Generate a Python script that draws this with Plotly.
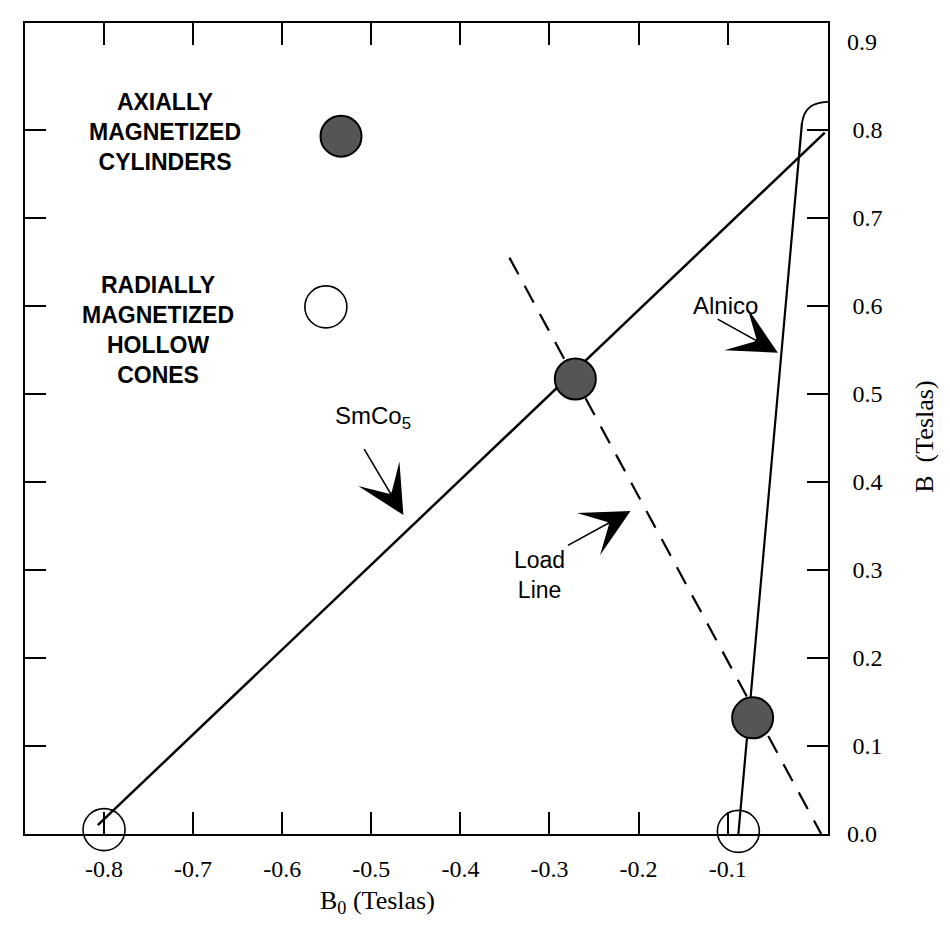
import plotly.graph_objects as go

# ---- data (Teslas) ----
x_tick_vals = [-0.8, -0.7, -0.6, -0.5, -0.4, -0.3, -0.2, -0.1]
x_tick_text = ["-0.8", "-0.7", "-0.6", "-0.5", "-0.4", "-0.3", "-0.2", "-0.1"]
y_tick_vals = [0.1, 0.2, 0.3, 0.4, 0.5, 0.6, 0.7, 0.8]
y_tick_text = ["0.1", "0.2", "0.3", "0.4", "0.5", "0.6", "0.7", "0.8"]
y_end_vals = [0.0, 0.9]
y_end_text = ["0.0", "0.9"]

smco5_b0 = [-0.807, 0.009]
smco5_b = [0.010, 0.797]

alnico_b0 = [-0.088, -0.0166]
alnico_b = [0.0, 0.808]
alnico_knee_b0 = [-0.0166, -0.0133, -0.0065, 0.0048, 0.0148]
alnico_knee_b = [0.808, 0.819, 0.827, 0.831, 0.832]

load_b0 = [-0.345, 0.005]
load_b = [0.655, 0.0]

filled_b0 = [-0.534, -0.271, -0.072]
filled_b = [0.793, 0.517, 0.132]
open_b0 = [-0.551, -0.800, -0.088]
open_b = [0.599, 0.005, 0.003]

X_RANGE = [-0.8887, 0.0126]
Y_RANGE = [0.0, 0.9216]

SERIF = "Liberation Serif, Times New Roman, serif"
SANS = "Liberation Sans, Arial, Helvetica, sans-serif"

fig = go.Figure()

fig.add_trace(go.Scatter(x=smco5_b0, y=smco5_b, mode="lines",
                         line=dict(color="black", width=2.5), hoverinfo="skip"))
fig.add_trace(go.Scatter(x=alnico_b0, y=alnico_b, mode="lines",
                         line=dict(color="black", width=2.2), hoverinfo="skip"))
fig.add_trace(go.Scatter(x=alnico_knee_b0, y=alnico_knee_b, mode="lines",
                         line=dict(color="black", width=1.8, shape="spline"),
                         hoverinfo="skip"))
fig.add_trace(go.Scatter(x=load_b0, y=load_b, mode="lines",
                         line=dict(color="black", width=2.2, dash="19px,13px"),
                         hoverinfo="skip"))
fig.add_trace(go.Scatter(x=filled_b0, y=filled_b, mode="markers", cliponaxis=False,
                         marker=dict(size=41, color="#555555",
                                     line=dict(color="black", width=2)),
                         hoverinfo="skip"))
fig.add_trace(go.Scatter(x=open_b0, y=open_b, mode="markers", cliponaxis=False,
                         marker=dict(size=42, color="rgba(0,0,0,0)",
                                     line=dict(color="black", width=1.6)),
                         hoverinfo="skip"))
# carrier trace for the secondary (end-label) axis
fig.add_trace(go.Scatter(x=[None], y=[None], yaxis="y2", mode="markers",
                         hoverinfo="skip"))

annotations = []
# text blocks
annotations.append(dict(x=-0.7315, y=0.798, xref="x", yref="y",
                        text="<b>AXIALLY<br>MAGNETIZED<br>CYLINDERS</b>",
                        showarrow=False, align="center",
                        font=dict(family=SANS, size=23, color="black")))
annotations.append(dict(x=-0.739, y=0.573, xref="x", yref="y",
                        text="<b>RADIALLY<br>MAGNETIZED<br>HOLLOW<br>CONES</b>",
                        showarrow=False, align="center",
                        font=dict(family=SANS, size=23, color="black")))
annotations.append(dict(x=-0.498, y=0.473, xref="x", yref="y",
                        text="SmCo<sub>5</sub>", showarrow=False,
                        font=dict(family=SANS, size=24, color="black")))
annotations.append(dict(x=-0.311, y=0.294, xref="x", yref="y",
                        text="Load<br>Line", showarrow=False, align="center",
                        font=dict(family=SANS, size=23, color="black")))
annotations.append(dict(x=-0.102, y=0.601, xref="x", yref="y",
                        text="Alnico", showarrow=False,
                        font=dict(family=SANS, size=24, color="black")))
# arrows (tail -> tip)
arrows = [((-0.509, 0.439), (-0.464, 0.3625)),
          ((-0.281, 0.327), (-0.209, 0.367)),
          ((-0.113, 0.586), (-0.0436, 0.547))]
for (tx, ty), (hx, hy) in arrows:
    annotations.append(dict(x=hx, y=hy, ax=tx, ay=ty, xref="x", yref="y",
                            axref="x", ayref="y", text="", showarrow=True,
                            arrowhead=3, arrowsize=5, arrowwidth=1.6,
                            arrowcolor="black", standoff=0, startstandoff=0))
# axis titles
annotations.append(dict(x=-0.4925, y=-0.106, xref="x", yref="paper",
                        text="B<sub>0</sub> (Teslas)", showarrow=False,
                        font=dict(family=SERIF, size=26, color="black")))
annotations.append(dict(x=1.1407, y=0.452, xref="paper", yref="y",
                        text="B  (Teslas)", showarrow=False, textangle=-90,
                        font=dict(family=SERIF, size=26, color="black")))

fig.update_layout(
    width=950, height=936,
    margin=dict(l=17, r=130, t=15, b=110),
    paper_bgcolor="white", plot_bgcolor="white",
    showlegend=False,
    annotations=annotations,
    xaxis=dict(range=X_RANGE, tickvals=x_tick_vals, ticktext=x_tick_text,
               ticks="inside", ticklen=22, tickwidth=1.6, tickcolor="black",
               showline=True, linewidth=1.6, linecolor="black", mirror="ticks",
               showgrid=False, zeroline=False, ticklabelstandoff=12,
               tickfont=dict(family=SERIF, size=24, color="black")),
    yaxis=dict(range=Y_RANGE, side="right", tickvals=y_tick_vals,
               ticktext=y_tick_text, ticks="inside", ticklen=21, tickwidth=1.6,
               tickcolor="black", showline=True, linewidth=1.6,
               linecolor="black", mirror="ticks", showgrid=False,
               zeroline=False, ticklabelstandoff=18,
               tickfont=dict(family=SERIF, size=24, color="black")),
    yaxis2=dict(range=Y_RANGE, side="right", overlaying="y",
                tickvals=y_end_vals, ticktext=y_end_text, ticks="",
                showline=False, showgrid=False, zeroline=False,
                ticklabelstandoff=18,
                tickfont=dict(family=SERIF, size=24, color="black")),
)

fig.write_html("out.html")
